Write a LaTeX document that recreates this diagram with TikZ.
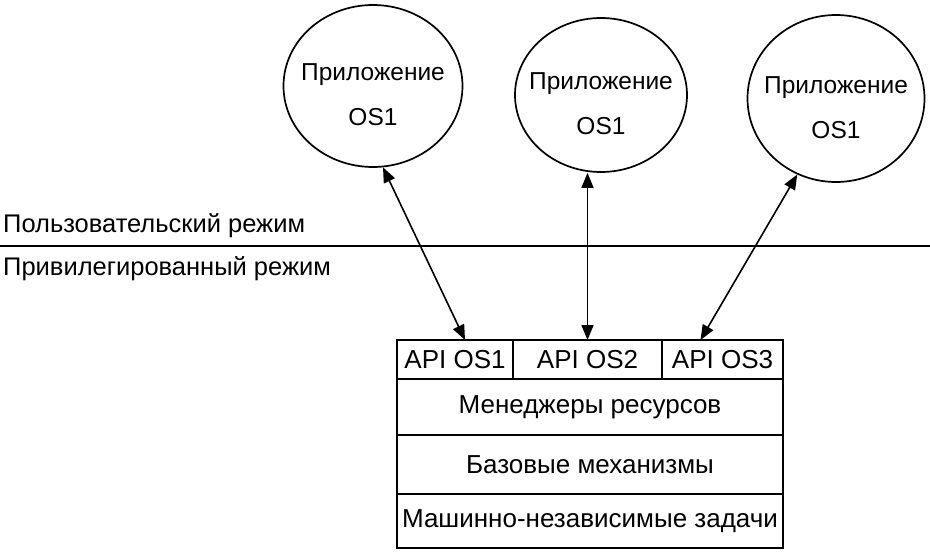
\documentclass[tikz,border=0pt]{standalone}
\usepackage{fontspec}
\setmainfont{Liberation Sans}
\usetikzlibrary{shapes.geometric, arrows.meta}

\begin{document}
\begin{tikzpicture}[
  x=1pt, y=-1pt,
  % application ellipse; the two text lines sit a bit below its centre
  app/.style={ellipse, draw=black, line width=1.7pt, inner sep=0pt},
  apptext/.style={align=center, font=\fontsize{24.5}{29}\selectfont, yshift=-9pt},
  % one layer of the kernel box; height supplied as layer=<height>
  layer/.style={
    rectangle, draw=black, line width=1.7pt,
    inner sep=0pt, outer sep=0pt,
    minimum height=#1,
    font=\fontsize{26}{31}\selectfont
  },
  mode/.style={anchor=base west, inner sep=0pt, font=\fontsize{25.5}{30}\selectfont},
  arr/.style={{Triangle[length=15pt,width=12pt]}-{Triangle[length=15pt,width=12pt]}, line width=1.6pt},
]
\useasboundingbox (0,0) rectangle (930,554);

%% ── Applications ──────────────────────────────────────────────────────────
\node[app, minimum width=179pt, minimum height=162pt,
      label={[apptext]center:{Приложение\\[16pt]OS1}}] (app1) at (373,86) {};
\node[app, minimum width=172pt, minimum height=154pt,
      label={[apptext]center:{Приложение\\[16pt]OS1}}] (app2) at (601,95) {};
\node[app, minimum width=177pt, minimum height=167pt,
      label={[apptext]center:{Приложение\\[16pt]OS1}}] (app3) at (836,98.5) {};

%% ── Mode boundary ─────────────────────────────────────────────────────────
\node[mode] (user) at (3,232) {Пользовательский режим};
\draw[line width=2.8pt] (0,246) -- (930,246);
\node[mode] (priv) at (3,275) {Привилегированный режим};

%% ── Kernel layers ─────────────────────────────────────────────────────────
\node[layer=39pt, minimum width=116pt] (api1) at (455,359.5) {API OS1};
\node[layer=39pt, minimum width=149pt] (api2) at (587.5,359.5) {API OS2};
\node[layer=39pt, minimum width=121pt] (api3) at (722.5,359.5) {API OS3};

\node[layer=56pt, minimum width=386pt] (mgr)  at (590,407)   {Менеджеры ресурсов};
\node[layer=59pt, minimum width=386pt] (base) at (590,464.5) {Базовые механизмы};
\node[layer=54pt, minimum width=386pt] (mach) at (590,521)   {Машинно-независимые задачи};

%% ── Arrows ────────────────────────────────────────────────────────────────
\draw[arr] (app1.277) -- ([xshift=10pt]api1.north);
\draw[arr] (app2.south -| api2.north) -- (api2.north);
\draw[arr] (app3.243) -- ([xshift=-22pt]api3.north);

\end{tikzpicture}
\end{document}
